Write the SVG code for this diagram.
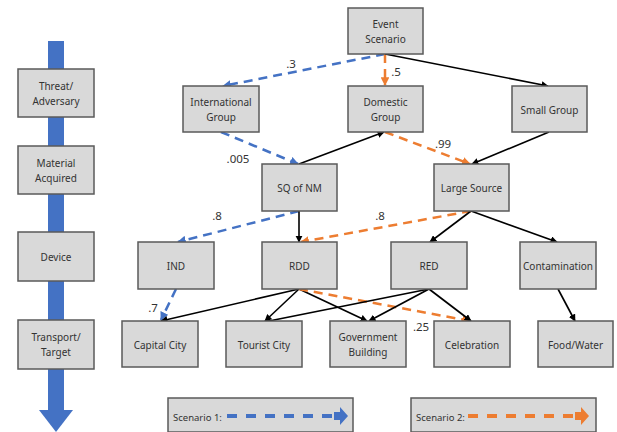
<svg xmlns="http://www.w3.org/2000/svg" width="617" height="432" viewBox="0 0 617 432">
<style>
.box{fill:#d9d9d9;stroke:#5a5a5a;stroke-width:1.5}
text{font-family:"Noto Sans","Liberation Sans",sans-serif;font-size:10px;fill:#333;text-anchor:middle;dominant-baseline:central}
.lbl{font-size:11.5px;text-anchor:middle}
.leg{font-size:9.5px;text-anchor:start}
.k{stroke:#000;stroke-width:1.6;fill:none;marker-end:url(#mk)}
.b{stroke:#4472c4;stroke-width:2.5;fill:none;stroke-dasharray:9 6;marker-end:url(#mb)}
.o{stroke:#ed7d31;stroke-width:2.5;fill:none;stroke-dasharray:9 6;marker-end:url(#mo)}
</style>
<defs>
<marker id="mk" viewBox="0 0 10 10" refX="9" refY="5" markerWidth="4.5" markerHeight="4.5" orient="auto" markerUnits="strokeWidth"><path d="M0,0 L10,5 L0,10 z" fill="#000"/></marker>
<marker id="mb" viewBox="0 0 10 10" refX="9" refY="5" markerWidth="3.5" markerHeight="3.5" orient="auto" markerUnits="strokeWidth"><path d="M0,0 L10,5 L0,10 z" fill="#4472c4"/></marker>
<marker id="mo" viewBox="0 0 10 10" refX="9" refY="5" markerWidth="3.5" markerHeight="3.5" orient="auto" markerUnits="strokeWidth"><path d="M0,0 L10,5 L0,10 z" fill="#ed7d31"/></marker>
</defs>

<g id="stage-arrow">
<rect x="48" y="41" width="16" height="370" fill="#4472c4"/>
<polygon points="39,410 73,410 56,432" fill="#4472c4"/>
</g>
<g id="stage-threat"><rect class="box" x="18" y="69" width="76" height="48"/><text x="56" y="86">Threat/</text><text x="56" y="101">Adversary</text></g>
<g id="stage-material"><rect class="box" x="18" y="146" width="76" height="48"/><text x="56" y="163">Material</text><text x="56" y="178">Acquired</text></g>
<g id="stage-device"><rect class="box" x="18" y="232" width="76" height="49"/><text x="56" y="257">Device</text></g>
<g id="stage-transport"><rect class="box" x="18" y="320" width="76" height="49"/><text x="56" y="337">Transport/</text><text x="56" y="352">Target</text></g>

<g id="connectors">
<path class="b" d="M385,54 L223,86"/>
<path class="o" d="M385,54 L385,85"/>
<path class="k" d="M385,54 L548,86"/>
<path class="b" d="M221,132 L298,164"/>
<path class="k" d="M299,164 L384,132"/>
<path class="o" d="M385,132 L470,164"/>
<path class="k" d="M549,132 L472,164"/>
<path class="b" d="M299,211 L178,242"/>
<path class="k" d="M299,211 L299,242"/>
<path class="o" d="M471,211 L301,242"/>
<path class="k" d="M471,211 L430,242"/>
<path class="k" d="M471,211 L557,242"/>
<path class="b" d="M176,289 L161,320"/>
<path class="k" d="M299,289 L161,321"/>
<path class="k" d="M299,289 L265,321"/>
<path class="k" d="M299,289 L367,321"/>
<path class="o" d="M299,289 L470,321"/>
<path class="k" d="M429,289 L264,322"/>
<path class="k" d="M429,289 L369,321"/>
<path class="k" d="M429,289 L471,321"/>
<path class="k" d="M558,289 L575,321"/>
<text class="lbl" x="291" y="63">.3</text>
<text class="lbl" x="396" y="71">.5</text>
<text class="lbl" x="238" y="158">.005</text>
<text class="lbl" x="443" y="143">.99</text>
<text class="lbl" x="217" y="215">.8</text>
<text class="lbl" x="380" y="215">.8</text>
<text class="lbl" x="153" y="307">.7</text>
<text class="lbl" x="421" y="326">.25</text>
</g>

<g id="event"><rect class="box" x="348" y="8" width="75" height="46"/><text x="385.5" y="24">Event</text><text x="385.5" y="39">Scenario</text></g>
<g id="international"><rect class="box" x="183" y="86" width="76" height="46"/><text x="221" y="102">International</text><text x="221" y="117">Group</text></g>
<g id="domestic"><rect class="box" x="348" y="86" width="75" height="46"/><text x="385.5" y="102">Domestic</text><text x="385.5" y="117">Group</text></g>
<g id="small"><rect class="box" x="512" y="86" width="75" height="46"/><text x="549.5" y="110">Small Group</text></g>
<g id="sq"><rect class="box" x="262" y="164" width="75" height="47"/><text x="299.5" y="188">SQ of NM</text></g>
<g id="large"><rect class="box" x="434" y="164" width="75" height="47"/><text x="471.5" y="188">Large Source</text></g>
<g id="ind"><rect class="box" x="138" y="242" width="76" height="47"/><text x="176" y="266">IND</text></g>
<g id="rdd"><rect class="box" x="262" y="242" width="75" height="47"/><text x="299.5" y="266">RDD</text></g>
<g id="red"><rect class="box" x="391" y="242" width="76" height="47"/><text x="429" y="266">RED</text></g>
<g id="contamination"><rect class="box" x="520" y="242" width="76" height="47"/><text x="558" y="266">Contamination</text></g>
<g id="capital"><rect class="box" x="122" y="321" width="76" height="46"/><text x="160" y="345">Capital City</text></g>
<g id="tourist"><rect class="box" x="226" y="321" width="76" height="46"/><text x="264" y="345">Tourist City</text></g>
<g id="government"><rect class="box" x="330" y="321" width="76" height="46"/><text x="368" y="337">Government</text><text x="368" y="352">Building</text></g>
<g id="celebration"><rect class="box" x="434" y="321" width="76" height="46"/><text x="472" y="345">Celebration</text></g>
<g id="food"><rect class="box" x="538" y="321" width="75" height="46"/><text x="575.5" y="345">Food/Water</text></g>

<g id="legend1"><rect class="box" x="168" y="398" width="185" height="34"/><text class="leg" x="173" y="417">Scenario 1:</text>
<line x1="227" y1="416" x2="335" y2="416" stroke="#4472c4" stroke-width="4" stroke-dasharray="10 9"/>
<path d="M334,412 L340,412 L340,407 L348,416 L340,425 L340,420 L334,420 z" fill="#4472c4"/></g>
<g id="legend2"><rect class="box" x="411" y="398" width="185" height="34"/><text class="leg" x="416" y="417">Scenario 2:</text>
<line x1="468" y1="416" x2="575" y2="416" stroke="#ed7d31" stroke-width="4" stroke-dasharray="10 9"/>
<path d="M575,412 L581,412 L581,407 L589,416 L581,425 L581,420 L575,420 z" fill="#ed7d31"/></g>
</svg>
